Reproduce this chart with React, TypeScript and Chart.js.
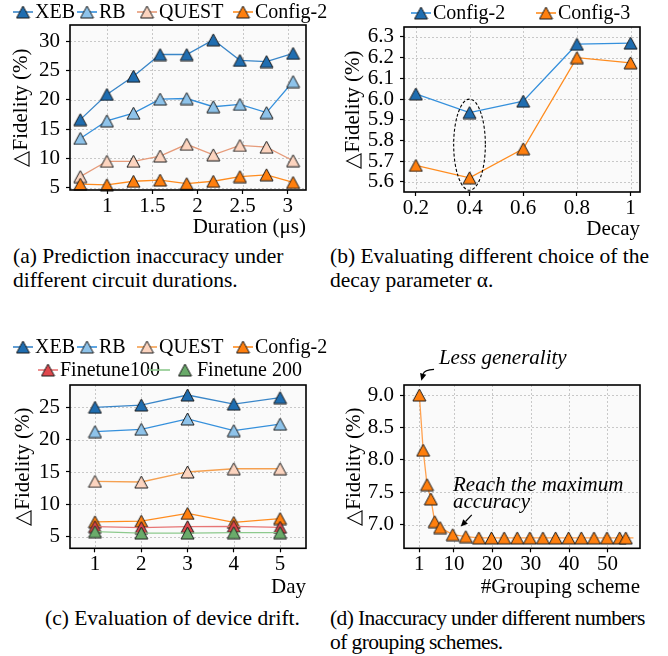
import React, { useEffect, useRef } from 'react';
import { Chart, registerables } from 'chart.js';
Chart.register(...registerables);

const FONT = "'Liberation Serif', 'Times New Roman', serif";

// (a) Prediction inaccuracy vs circuit duration
const durationX = [0.7, 0.995, 1.29, 1.585, 1.88, 2.175, 2.47, 2.765, 3.06];
const aXEB = [16.6, 20.9, 24.0, 27.7, 27.7, 30.2, 26.7, 26.5, 27.9];
const aRB = [13.4, 16.4, 17.7, 20.1, 20.2, 18.8, 19.2, 17.8, 23.1];
const aQUEST = [6.9, 9.5, 9.5, 10.4, 12.4, 10.6, 12.2, 11.9, 9.6];
const aConfig2 = [5.6, 5.5, 6.1, 6.3, 5.7, 6.1, 6.9, 7.2, 5.9];
const aXTicks = [1, 1.5, 2, 2.5, 3];
const aYTicks = [5, 10, 15, 20, 25, 30];

// (b) Decay parameter
const decayX = [0.2, 0.4, 0.6, 0.8, 1.0];
const bConfig2 = [6.025, 5.935, 5.99, 6.265, 6.27];
const bConfig3 = [5.68, 5.62, 5.76, 6.2, 6.175];
const bXTicks = [0.2, 0.4, 0.6, 0.8, 1];
const bYTicks = [5.6, 5.7, 5.8, 5.9, 6.0, 6.1, 6.2, 6.3];

// (c) Device drift
const days = [1, 2, 3, 4, 5];
const cXEB = [25.0, 25.35, 26.9, 25.5, 26.5];
const cRB = [21.25, 21.6, 23.2, 21.4, 22.4];
const cQUEST = [13.55, 13.45, 15.0, 15.5, 15.5];
const cConfig2 = [7.3, 7.4, 8.6, 7.2, 7.8];
const cFinetune100 = [6.55, 6.4, 6.55, 6.6, 6.45];
const cFinetune200 = [5.77, 5.55, 5.55, 5.62, 5.62];
const cXTicks = [1, 2, 3, 4, 5];
const cYTicks = [5, 10, 15, 20, 25];

// (d) Grouping schemes
const groupX = [1, 2, 3, 4, 5, 6.4, 9.7, 13.1, 16.5, 19.8, 23.1, 26.5, 29.8, 33.2, 36.5, 39.9, 43.2, 46.5, 49.9, 53.2, 54.8, 56.8];
const dConfig2 = [9.0, 8.15, 7.62, 7.4, 7.05, 6.96, 6.85, 6.82, 6.8, 6.8, 6.8, 6.8, 6.8, 6.8, 6.8, 6.8, 6.8, 6.8, 6.8, 6.8, 6.8, 6.8];
const dXTicks = [1, 10, 20, 30, 40, 50];
const dYTicks = [7.0, 7.5, 8.0, 8.5, 9.0];

const C = {
  xebFill: '#1f6db0', xebLine: '#3a86c8',
  rbFill: '#8ec3ea', rbLine: '#3590dc',
  questFill: '#fcd4bf', questLineA: '#e69b7a', questLineC: '#f5a050',
  cfgFill: '#ff7f0e', cfgLine: '#ff8c1f',
  ft100Fill: '#e0484d', ft100Line: '#e77575',
  ft200Fill: '#6aab6a', ft200Line: '#8dc98d',
  dLine: '#ffa14f',
};

function tri(fill: string): HTMLCanvasElement {
  const c = document.createElement('canvas');
  c.width = 15; c.height = 14;
  const g = c.getContext('2d')!;
  g.beginPath();
  g.moveTo(7.5, 1); g.lineTo(1, 13); g.lineTo(14, 13); g.closePath();
  g.fillStyle = fill; g.fill();
  g.lineWidth = 1; g.strokeStyle = '#1a1a1a'; g.stroke();
  return c;
}

function ds(label: string, xs: number[], ys: number[], fill: string, line: string, order: number, hideLast = false) {
  return {
    label,
    data: xs.map((x, i) => ({ x, y: ys[i] })),
    borderColor: line,
    backgroundColor: fill,
    borderWidth: 1.3,
    pointStyle: tri(fill),
    pointRadius: xs.map((_, i) => (hideLast && i === xs.length - 1 ? 0 : 7)),
    tension: 0,
    fill: false,
    clip: false,
    order,
  };
}

type LegendItem = { text: string; line: string; fill: string; x0: number; x1: number; mx: number; tx: number; y: number };
function item(text: string, line: string, fill: string, hx: number, y: number): LegendItem {
  return { text, line, fill, x0: hx, x1: hx + 20, mx: hx + 10, tx: hx + 22, y };
}

interface PanelCfg {
  datasets: any[];
  xMin: number; xMax: number; yMin: number; yMax: number;
  xTicks: number[]; yTicks: number[];
  xFmt?: (v: number) => string; yFmt?: (v: number) => string;
  xTitle: string;
  padTop: number; xH: number; yTitlePad: number;
  legend: LegendItem[];
  extra?: (chart: any) => void;
}

function build(canvas: HTMLCanvasElement, cfg: PanelCfg): Chart {
  const tickFont = { family: FONT, size: 21 };
  const deco = {
    id: 'deco',
    beforeDatasetsDraw(chart: any) {
      const { ctx, chartArea: a, scales } = chart;
      ctx.save();
      ctx.fillStyle = '#fafafa';
      ctx.fillRect(a.left, a.top, a.right - a.left, a.bottom - a.top);
      ctx.strokeStyle = '#c2c2c2';
      ctx.lineWidth = 0.9;
      ctx.setLineDash([2, 2]);
      for (const t of scales.x.ticks) {
        const px = Math.round(scales.x.getPixelForValue(t.value)) + 0.5;
        ctx.beginPath(); ctx.moveTo(px, a.top); ctx.lineTo(px, a.bottom); ctx.stroke();
      }
      for (const t of scales.y.ticks) {
        const py = Math.round(scales.y.getPixelForValue(t.value)) + 0.5;
        ctx.beginPath(); ctx.moveTo(a.left, py); ctx.lineTo(a.right, py); ctx.stroke();
      }
      ctx.restore();
    },
    afterDatasetsDraw(chart: any) {
      const { ctx, chartArea: a } = chart;
      if (cfg.extra) cfg.extra(chart);
      ctx.save();
      ctx.strokeStyle = '#000';
      ctx.lineWidth = 1.6;
      ctx.setLineDash([]);
      ctx.strokeRect(a.left, a.top, a.right - a.left, a.bottom - a.top);
      ctx.restore();
    },
    afterDraw(chart: any) {
      const { ctx } = chart;
      ctx.save();
      ctx.font = `20px ${FONT}`;
      ctx.textBaseline = 'middle';
      ctx.textAlign = 'left';
      for (const it of cfg.legend) {
        ctx.strokeStyle = it.line;
        ctx.lineWidth = 1.6;
        ctx.beginPath(); ctx.moveTo(it.x0, it.y); ctx.lineTo(it.x1, it.y); ctx.stroke();
        const m = tri(it.fill);
        ctx.drawImage(m, it.mx - m.width / 2, it.y - m.height / 2);
        ctx.fillStyle = '#000';
        ctx.fillText(it.text, it.tx, it.y + 1);
      }
      ctx.restore();
    },
  };

  const fmtX = cfg.xFmt || ((v: number) => String(v));
  const fmtY = cfg.yFmt || ((v: number) => String(v));

  return new Chart(canvas, {
    type: 'line',
    data: { datasets: cfg.datasets },
    options: {
      responsive: false,
      maintainAspectRatio: false,
      animation: false,
      devicePixelRatio: 1,
      events: [],
      layout: { padding: { left: 0, right: 28, top: cfg.padTop, bottom: 0 } },
      plugins: { legend: { display: false }, tooltip: { enabled: false }, title: { display: false } },
      scales: {
        x: {
          type: 'linear',
          min: cfg.xMin, max: cfg.xMax,
          afterBuildTicks: (s: any) => { s.ticks = cfg.xTicks.map((v) => ({ value: v })); },
          afterFit: (s: any) => { s.height = cfg.xH; },
          ticks: { font: tickFont, color: '#000', padding: 0, maxRotation: 0, autoSkip: false, callback: (v: any) => fmtX(Number(v)) },
          grid: { drawOnChartArea: false, drawTicks: true, tickLength: 4, tickColor: '#000', tickWidth: 1.2, tickBorderDash: [] },
          border: { display: false },
          title: { display: true, text: cfg.xTitle, align: 'end', color: '#000', font: { family: FONT, size: 21 }, padding: { top: 0, bottom: 0 } },
        },
        y: {
          type: 'linear',
          min: cfg.yMin, max: cfg.yMax,
          afterBuildTicks: (s: any) => { s.ticks = cfg.yTicks.map((v) => ({ value: v })); },
          afterFit: (s: any) => { s.width = 70; },
          ticks: { font: tickFont, color: '#000', padding: 6, autoSkip: false, callback: (v: any) => fmtY(Number(v)) },
          grid: { drawOnChartArea: false, drawTicks: true, tickLength: 4, tickColor: '#000', tickWidth: 1.2, tickBorderDash: [] },
          border: { display: false },
          title: { display: true, text: '\u25B3Fidelity (%)', color: '#000', font: { family: FONT, size: 21 }, padding: { top: cfg.yTitlePad, bottom: 0 } },
        },
      },
    } as any,
    plugins: [deco],
  });
}

function arrow(ctx: CanvasRenderingContext2D, s: number[], c: number[] | null, e: number[]) {
  ctx.save();
  ctx.strokeStyle = '#000'; ctx.fillStyle = '#000'; ctx.lineWidth = 1.2; ctx.setLineDash([]);
  const from = c || s;
  const ang = Math.atan2(e[1] - from[1], e[0] - from[0]);
  const hl = 7, hw = 3.2;
  const bx = e[0] - Math.cos(ang) * hl, by = e[1] - Math.sin(ang) * hl;
  ctx.beginPath();
  ctx.moveTo(s[0], s[1]);
  if (c) ctx.quadraticCurveTo(c[0], c[1], bx, by); else ctx.lineTo(bx, by);
  ctx.stroke();
  ctx.beginPath();
  ctx.moveTo(e[0], e[1]);
  ctx.lineTo(bx + Math.sin(ang) * hw, by - Math.cos(ang) * hw);
  ctx.lineTo(bx - Math.sin(ang) * hw, by + Math.cos(ang) * hw);
  ctx.closePath(); ctx.fill();
  ctx.restore();
}

export default function App() {
  const ra = useRef<HTMLCanvasElement>(null);
  const rb = useRef<HTMLCanvasElement>(null);
  const rc = useRef<HTMLCanvasElement>(null);
  const rd = useRef<HTMLCanvasElement>(null);

  useEffect(() => {
    const charts: Chart[] = [];
    charts.push(build(ra.current!, {
      datasets: [
        ds('XEB', durationX, aXEB, C.xebFill, C.xebLine, 4),
        ds('RB', durationX, aRB, C.rbFill, C.rbLine, 3),
        ds('QUEST', durationX, aQUEST, C.questFill, C.questLineA, 2),
        ds('Config-2', durationX, aConfig2, C.cfgFill, C.cfgLine, 1),
      ],
      xMin: 0.586, xMax: 3.203, yMin: 4.61, yMax: 32.73,
      xTicks: aXTicks, yTicks: aYTicks,
      xTitle: 'Duration (\u03BCs)', padTop: 25, xH: 50, yTitlePad: 9,
      legend: [
        item('XEB', C.xebLine, C.xebFill, 13, 12),
        item('RB', C.rbLine, C.rbFill, 77, 12),
        item('QUEST', C.questLineA, C.questFill, 137, 12),
        item('Config-2', C.cfgLine, C.cfgFill, 233, 12),
      ],
    }));

    charts.push(build(rb.current!, {
      datasets: [
        ds('Config-2', decayX, bConfig2, C.xebFill, C.rbLine, 2),
        ds('Config-3', decayX, bConfig3, C.cfgFill, C.cfgLine, 1),
      ],
      xMin: 0.156, xMax: 1.035, yMin: 5.5515, yMax: 6.348,
      xTicks: bXTicks, yTicks: bYTicks,
      yFmt: (v) => v.toFixed(1),
      xTitle: 'Decay', padTop: 27, xH: 50, yTitlePad: 7,
      legend: [
        item('Config-2', C.rbLine, C.xebFill, 77, 13),
        item('Config-3', C.cfgLine, C.cfgFill, 202, 13),
      ],
      extra: (chart: any) => {
        const { ctx, scales } = chart;
        const cx = scales.x.getPixelForValue(0.4);
        const cy = scales.y.getPixelForValue(5.78);
        const rx = Math.abs(scales.x.getPixelForValue(0.459) - cx);
        const ry = Math.abs(scales.y.getPixelForValue(6.0) - cy);
        ctx.save();
        ctx.strokeStyle = '#000'; ctx.lineWidth = 1.1; ctx.setLineDash([3, 2]);
        ctx.beginPath(); ctx.ellipse(cx, cy, rx, ry, 0, 0, Math.PI * 2); ctx.stroke();
        ctx.restore();
      },
    }));

    charts.push(build(rc.current!, {
      datasets: [
        ds('XEB', days, cXEB, C.xebFill, C.xebLine, 6),
        ds('RB', days, cRB, C.rbFill, C.rbLine, 5),
        ds('QUEST', days, cQUEST, C.questFill, C.questLineC, 4),
        ds('Config-2', days, cConfig2, C.cfgFill, C.cfgLine, 3),
        ds('Finetune100', days, cFinetune100, C.ft100Fill, C.ft100Line, 2),
        ds('Finetune 200', days, cFinetune200, C.ft200Fill, C.ft200Line, 1),
      ],
      xMin: 0.46, xMax: 5.56, yMin: 3.2, yMax: 28.45,
      xTicks: cXTicks, yTicks: cYTicks,
      xTitle: 'Day', padTop: 65, xH: 51.7, yTitlePad: 11,
      legend: [
        item('XEB', C.xebLine, C.xebFill, 13, 27),
        item('RB', C.rbLine, C.rbFill, 77, 27),
        item('QUEST', C.questLineC, C.questFill, 137, 27),
        item('Config-2', C.cfgLine, C.cfgFill, 233, 27),
        item('Finetune100', C.ft100Line, C.ft100Fill, 38, 50),
        { text: 'Finetune 200', line: C.ft200Line, fill: C.ft200Fill, x0: 148, x1: 170, mx: 185, tx: 197, y: 50 },
      ],
    }));

    charts.push(build(rd.current!, {
      datasets: [ds('Config-2', groupX, dConfig2, C.cfgFill, C.dLine, 1, true)],
      xMin: -3, xMax: 58.5, yMin: 6.64, yMax: 9.154,
      xTicks: dXTicks, yTicks: dYTicks,
      yFmt: (v) => v.toFixed(1),
      xTitle: '#Grouping scheme', padTop: 65, xH: 51.7, yTitlePad: 8,
      legend: [],
      extra: (chart: any) => {
        const { ctx, scales } = chart;
        const P = (a: number, b: number) => [scales.x.getPixelForValue(a), scales.y.getPixelForValue(b)];
        ctx.save();
        ctx.font = `italic 21px ${FONT}`;
        ctx.fillStyle = '#000';
        ctx.textBaseline = 'middle';
        ctx.textAlign = 'left';
        const t1 = P(6.1, 9.565);
        ctx.fillText('Less generality', t1[0], t1[1]);
        const t2 = P(9.78, 7.605);
        ctx.fillText('Reach the maximum', t2[0], t2[1]);
        const t3 = P(9.78, 7.343);
        ctx.fillText('accuracy', t3[0], t3[1]);
        ctx.restore();
        arrow(ctx, P(4.83, 9.395), P(2.3, 9.39), P(1.52, 9.22));
        arrow(ctx, P(14.66, 7.154), null, P(11.79, 6.974));
      },
    }));

    return () => { charts.forEach((c) => c.destroy()); };
  }, []);

  const cap: React.CSSProperties = {
    position: 'absolute', fontFamily: FONT, fontSize: '21.5px', lineHeight: '24px', whiteSpace: 'nowrap', color: '#000',
  };

  return (
    <div style={{ position: 'absolute', left: 0, top: 0, width: 668, height: 656, background: '#fff', overflow: 'hidden' }}>
      <canvas ref={ra} width={334} height={240} style={{ position: 'absolute', left: 0, top: 0 }} />
      <canvas ref={rb} width={334} height={242} style={{ position: 'absolute', left: 334, top: 0 }} />
      <canvas ref={rc} width={334} height={280} style={{ position: 'absolute', left: 0, top: 320 }} />
      <canvas ref={rd} width={334} height={280} style={{ position: 'absolute', left: 334, top: 320 }} />
      <div style={{ ...cap, left: 13, top: 244 }}>(a) Prediction inaccuracy under<br />different circuit durations.</div>
      <div style={{ ...cap, left: 330, top: 244 }}>(b) Evaluating different choice of the<br />decay parameter α.</div>
      <div style={{ ...cap, left: 45, top: 606 }}>(c) Evaluation of device drift.</div>
      <div style={{ ...cap, left: 330, top: 606, letterSpacing: '-0.6px' }}>(d) Inaccuracy under different numbers<br />of grouping schemes.</div>
    </div>
  );
}
